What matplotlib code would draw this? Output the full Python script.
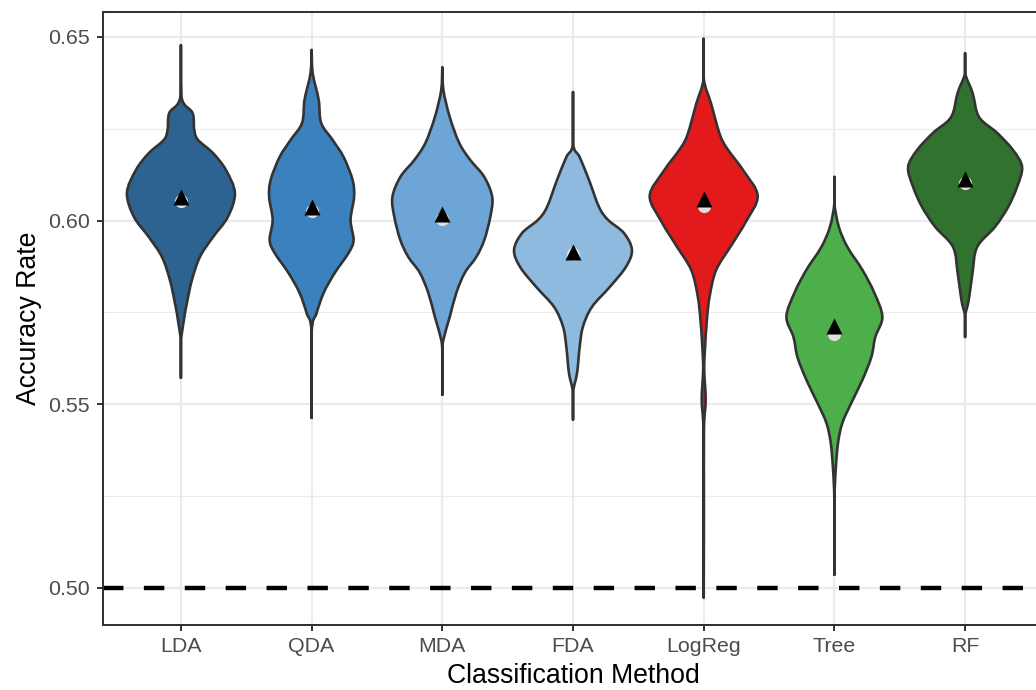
import numpy as np
import matplotlib
matplotlib.use("Agg")
import matplotlib.pyplot as plt
from matplotlib.path import Path
from matplotlib.patches import PathPatch

plt.rcParams['font.family'] = ['Liberation Sans', 'DejaVu Sans']

methods = ["LDA", "QDA", "MDA", "FDA", "LogReg", "Tree", "RF"]
fill_colors = ["#2c6391", "#3a81bd", "#6da5d6", "#8fbadf", "#e31a1c", "#4daf4a", "#31722f"]

# violin outlines: accuracy values and half-widths (category units)
lda_y = [0.6478, 0.6337, 0.6293, 0.6247, 0.6220, 0.6184, 0.6138, 0.6075, 0.6010, 0.5955,
         0.5901, 0.5838, 0.5776, 0.5730, 0.5667, 0.5572]
lda_w = [0.0, 0.004, 0.089, 0.102, 0.130, 0.245, 0.344, 0.413, 0.359, 0.245,
         0.145, 0.084, 0.046, 0.023, 0.0, 0.0]

qda_y = [0.6465, 0.6402, 0.6329, 0.6266, 0.6220, 0.6173, 0.6111, 0.6064, 0.6002, 0.5947,
         0.5912, 0.5857, 0.5803, 0.5748, 0.5694, 0.5463]
qda_w = [0.0, 0.008, 0.054, 0.073, 0.160, 0.245, 0.313, 0.325, 0.298, 0.321,
         0.283, 0.176, 0.092, 0.038, 0.0, 0.0]

mda_y = [0.6418, 0.6356, 0.6282, 0.6211, 0.6165, 0.6119, 0.6064, 0.6010, 0.5947, 0.5901,
         0.5858, 0.5803, 0.5738, 0.5675, 0.5640, 0.5526]
mda_w = [0.0, 0.008, 0.057, 0.130, 0.214, 0.321, 0.382, 0.367, 0.321, 0.260,
         0.172, 0.107, 0.057, 0.008, 0.0, 0.0]

fda_y = [0.6350, 0.6211, 0.6173, 0.6111, 0.6037, 0.6002, 0.5966, 0.5920, 0.5874, 0.5820,
         0.5765, 0.5711, 0.5656, 0.5585, 0.5531, 0.5458]
fda_w = [0.0, 0.0, 0.051, 0.122, 0.199, 0.268, 0.390, 0.451, 0.405, 0.283,
         0.145, 0.076, 0.051, 0.031, 0.0, 0.0]

logreg_y = [0.6495, 0.6388, 0.6318, 0.6236, 0.6198, 0.6135, 0.6067, 0.5996, 0.5934, 0.5866,
            0.5795, 0.5732, 0.5653, 0.5594, 0.5512, 0.5430, 0.5210, 0.4973]
logreg_w = [0.0, 0.0, 0.057, 0.122, 0.176, 0.306, 0.413, 0.321, 0.214, 0.096,
            0.046, 0.025, 0.010, 0.004, 0.015, 0.002, 0.002, 0.0]

tree_y = [0.6119, 0.6048, 0.5983, 0.5928, 0.5866, 0.5803, 0.5738, 0.5683, 0.5629, 0.5566,
          0.5504, 0.5449, 0.5395, 0.5321, 0.5232, 0.5036]
tree_w = [0.0, 0.0, 0.034, 0.100, 0.214, 0.306, 0.367, 0.313, 0.283, 0.214,
          0.130, 0.061, 0.028, 0.010, 0.0, 0.0]

rf_y = [0.6456, 0.6402, 0.6348, 0.6282, 0.6239, 0.6192, 0.6146, 0.6092, 0.6037, 0.5983,
        0.5928, 0.5858, 0.5784, 0.5738, 0.5683]
rf_w = [0.0, 0.0, 0.057, 0.107, 0.245, 0.367, 0.436, 0.398, 0.329, 0.229,
        0.092, 0.057, 0.028, 0.0, 0.0]

means = [0.6063, 0.6037, 0.6019, 0.5915, 0.6059, 0.5713, 0.6114]
medians = [0.6054, 0.6027, 0.6004, 0.5908, 0.6041, 0.5690, 0.6103]
chance_level = 0.50

y_ticks = [0.50, 0.55, 0.60, 0.65]
y_minor = [0.525, 0.575, 0.625]
y_tick_labels = ["0.50", "0.55", "0.60", "0.65"]

profiles = [(lda_y, lda_w), (qda_y, qda_w), (mda_y, mda_w), (fda_y, fda_w),
            (logreg_y, logreg_w), (tree_y, tree_w), (rf_y, rf_w)]


def violin_path(xc, ys, ws):
    """Closed Bezier outline through the read profile points (mirrored)."""
    ys = np.asarray(ys, float)
    ws = np.asarray(ws, float)
    n = len(ys)
    P = np.column_stack([ws, ys])
    segs = []
    for i in range(n - 1):
        p0 = P[max(i - 1, 0)]
        p1 = P[i]
        p2 = P[i + 1]
        p3 = P[min(i + 2, n - 1)]
        c1 = p1 + (p2 - p0) / 6.0
        c2 = p2 - (p3 - p1) / 6.0
        if p1[0] == 0 and p2[0] == 0:
            c1 = p1.copy()
            c2 = p2.copy()
        c1[0] = max(c1[0], 0.0)
        c2[0] = max(c2[0], 0.0)
        segs.append((c1, c2, p2))
    verts = [(xc + P[0, 0], P[0, 1])]
    codes = [Path.MOVETO]
    for c1, c2, p2 in segs:
        verts += [(xc + c1[0], c1[1]), (xc + c2[0], c2[1]), (xc + p2[0], p2[1])]
        codes += [Path.CURVE4] * 3
    for i in range(n - 2, -1, -1):
        c1, c2, _ = segs[i]
        p1 = P[i]
        verts += [(xc - c2[0], c2[1]), (xc - c1[0], c1[1]), (xc - p1[0], p1[1])]
        codes += [Path.CURVE4] * 3
    verts.append(verts[0])
    codes.append(Path.CLOSEPOLY)
    return Path(verts, codes)


fig = plt.figure(figsize=(10.36, 6.90), dpi=100)
ax = fig.add_axes([102.5 / 1036, 65 / 690, (1043.5 - 102.5) / 1036, (625 - 12) / 690])

ax.set_xlim(0.4, 7.6)
ax.set_ylim(0.4899, 0.6568)

# grid
for yv in y_minor:
    ax.axhline(yv, color="#ebebeb", lw=0.75, zorder=0)
for yv in y_ticks:
    ax.axhline(yv, color="#ebebeb", lw=1.5, zorder=0)
for i in range(len(methods)):
    ax.axvline(i + 1, color="#ebebeb", lw=1.5, zorder=0)

ax.axhline(chance_level, color="black", lw=3.2, dashes=(4.6, 4.6), zorder=1)

for i, ((ys, ws), col) in enumerate(zip(profiles, fill_colors)):
    path = violin_path(i + 1, ys, ws)
    patch = PathPatch(path, facecolor=col, edgecolor="#333333", lw=1.9,
                      joinstyle="round", capstyle="butt", zorder=2)
    ax.add_patch(patch)

xs = np.arange(1, len(methods) + 1)
ax.plot(xs, medians, "o", ms=9.5, color="#e0e0e0", mec="none", zorder=3)
ax.plot(xs, means, "^", ms=11.5, color="black", mec="none", zorder=4)

ax.set_xticks(xs)
ax.set_xticklabels(methods)
ax.set_yticks(y_ticks)
ax.set_yticklabels(y_tick_labels)
ax.tick_params(axis="both", length=4.3, width=1.4, color="#333333", labelcolor="#4d4d4d",
               labelsize=15.4)
ax.tick_params(axis="x", pad=4.6)
ax.tick_params(axis="y", pad=4.8)
for s in ax.spines.values():
    s.set_color("#333333")
    s.set_linewidth(1.45)

ax.set_xlabel("Classification Method", fontsize=19.2, color="black", labelpad=4.5)
ax.set_ylabel("Accuracy Rate", fontsize=19.2, color="black", labelpad=4)

fig.savefig("out.png", dpi=100)
